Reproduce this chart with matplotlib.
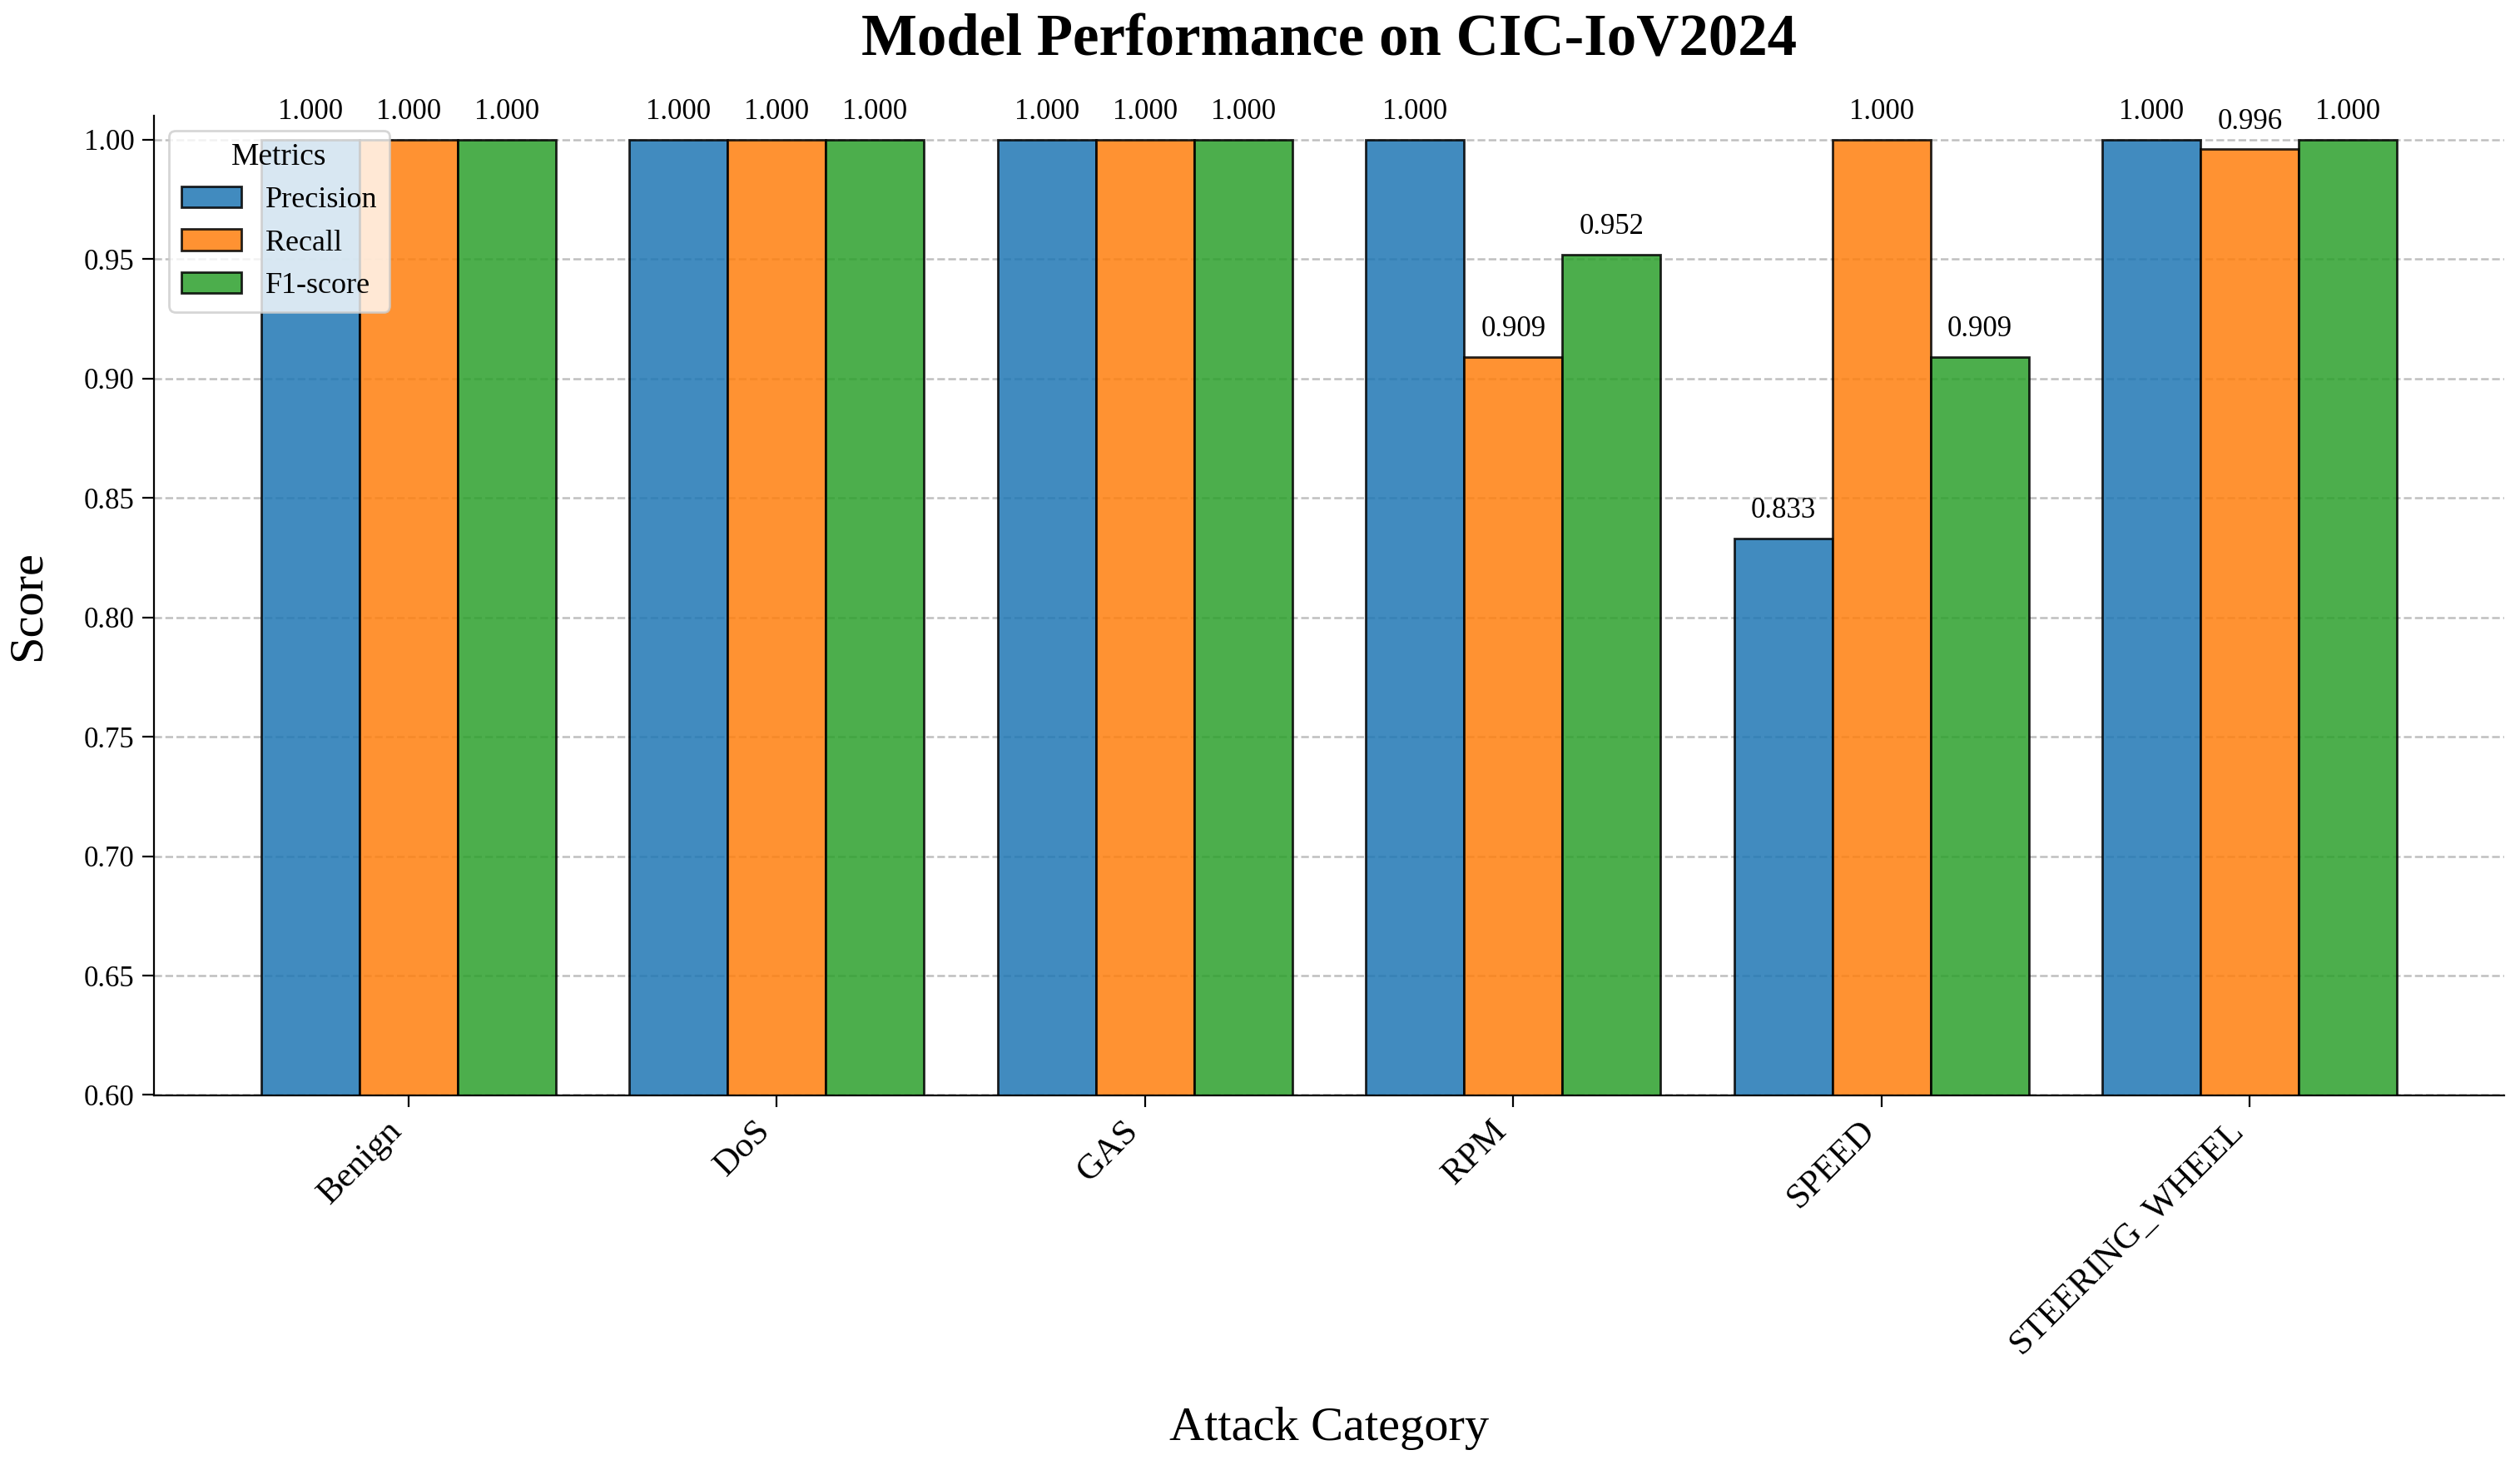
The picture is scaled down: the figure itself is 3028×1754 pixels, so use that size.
import matplotlib
matplotlib.use("Agg")
import matplotlib.pyplot as plt
import numpy as np

plt.rcParams['font.family'] = ['Liberation Serif', 'DejaVu Serif']

categories = ["Benign", "DoS", "GAS", "RPM", "SPEED", "STEERING_WHEEL"]
metrics = ["Precision", "Recall", "F1-score"]
precision = [1.000, 1.000, 1.000, 1.000, 0.833, 1.000]
recall = [1.000, 1.000, 1.000, 0.909, 1.000, 0.996]
f1_score = [1.000, 1.000, 1.000, 0.952, 0.909, 1.000]
colors = ["tab:blue", "tab:orange", "tab:green"]

fig = plt.figure(figsize=(15.14, 8.77), dpi=200)
ax = fig.add_axes([0.0612, 0.25, 0.9324, 0.6707])

x = np.arange(len(categories))
width = 0.8 / 3
for i, (name, vals) in enumerate(zip(metrics, [precision, recall, f1_score])):
    bars = ax.bar(x + (i - 1) * width, vals, width, label=name,
                  color=colors[i], alpha=0.85, edgecolor="black", linewidth=1)
    ax.bar_label(bars, fmt="%.3f", padding=6, fontsize=12.5)

ax.set_ylim(0.6, 1.01)
ax.set_xlim(-0.69, len(categories) - 1 + 0.69)
ax.set_xticks(x)
ax.set_xticklabels(categories, rotation=45, ha="right", fontsize=15.5)
ax.tick_params(axis="y", labelsize=12.5)
ax.tick_params(length=5)
ax.yaxis.grid(True, linestyle="--", color="gray", alpha=0.5, linewidth=0.9)
ax.set_axisbelow(True)
ax.spines["top"].set_visible(False)
ax.spines["right"].set_visible(False)

ax.set_title("Model Performance on CIC-IoV2024", fontsize=25.5,
             fontweight="bold", pad=26)
ax.set_xlabel("Attack Category", fontsize=21, labelpad=20)
ax.set_ylabel("Score", fontsize=21, labelpad=15)
ax.legend(title="Metrics", fontsize=13, title_fontsize=13.5, loc="upper left")

fig.savefig("out.png", dpi=200)
